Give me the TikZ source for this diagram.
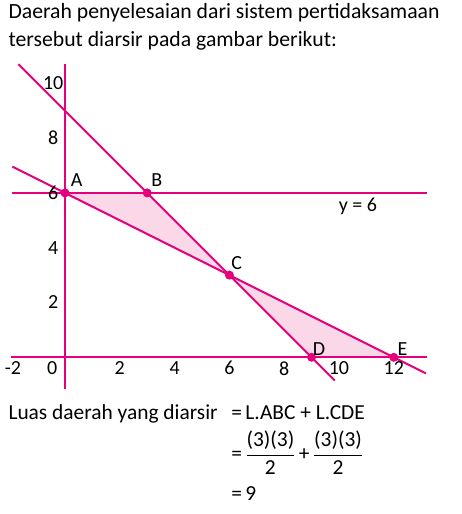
\documentclass[tikz,border=0pt]{standalone}
\usepackage{amsmath}
\usepackage{fontspec}
\setmainfont{Carlito}
\usetikzlibrary{calc,positioning}
\definecolor{rubine}{RGB}{229,0,125}
\definecolor{rubinefill}{RGB}{250,216,232}

\begin{document}
\begin{tikzpicture}[x=27.4pt,y=27.4pt,
    garis/.style={rubine,line width=2pt},
    titik/.style={circle,fill=rubine,inner sep=0pt,minimum size=9pt},
    angka/.style={font=\fontsize{20}{22}\selectfont},
    huruf/.style={font=\fontsize{20}{22}\selectfont},
    teks/.style={font=\fontsize{21.7}{24}\selectfont,anchor=base west},
    hitung/.style={font=\fontsize{21.4}{24}\selectfont}]

    \useasboundingbox (-2.372,-5.719) rectangle (14.453,13.04);

    % Judul
    \node[teks] (judul1) at (-2.19,12.365) {Daerah penyelesaian dari sistem pertidaksamaan};
    \node[teks] (judul2) at (-2.19,11.36) {tersebut diarsir pada gambar berikut:};

    % Titik potong
    \coordinate (A) at (0,6);
    \coordinate (B) at (3,6);
    \coordinate (C) at (6,3);
    \coordinate (D) at (9,0);
    \coordinate (E) at (12,0);

    % Daerah diarsir
    \fill[rubinefill] (A) -- (B) -- (C) -- cycle;
    \fill[rubinefill] (C) -- (D) -- (E) -- cycle;

    % Sumbu
    \coordinate (xkiri) at (-1.97,0);
    \coordinate (xkanan) at (13.21,0);
    \coordinate (ybawah) at (0,-1.16);
    \coordinate (yatas) at (0,10.7);
    \draw[garis] (xkiri) -- (xkanan);
    \draw[garis] (ybawah) -- (yatas);

    % Garis y = 6
    \coordinate (g1kiri) at (-1.94,6);
    \coordinate (g1kanan) at (13.21,6);
    \draw[garis] (g1kiri) -- (g1kanan);

    % Garis x + y = 9
    \coordinate (g2atas) at (-1.7,10.7);
    \coordinate (g2bawah) at (9.85,-0.85);
    \draw[garis] (g2atas) -- (g2bawah);

    % Garis x + 2y = 12
    \coordinate (g3atas) at (-1.92,6.96);
    \coordinate (g3bawah) at (13.17,-0.585);
    \draw[garis] (g3atas) -- (g3bawah);

    % Angka pada sumbu
    \foreach \x in {2,4,...,12}
        \node[angka] (tx\x) at (\x,-0.4) {\x};
    \node[angka] (tx0) at (-0.47,-0.4) {0};
    \node[angka] (txm2) at (-1.9,-0.4) {-2};
    \foreach \y in {2,4,...,10}
        \node[angka] (ty\y) at (-0.43,\y) {\y};

    % Titik dan label
    \foreach \p in {A,B,C,D,E}
        \node[titik] (t\p) at (\p) {};
    \node[huruf] (lA) at (0.43,6.45) {A};
    \node[huruf] (lB) at (3.35,6.45) {B};
    \node[huruf] (lC) at (6.27,3.43) {C};
    \node[huruf] (lD) at (9.27,0.3) {D};
    \node[huruf] (lE) at (12.32,0.3) {E};
    \node[huruf] (ly6) at (10.69,5.5) {y = 6};

    % Perhitungan luas
    \node[hitung,anchor=base west] (luas) at (-2.19,-2.263) {Luas daerah yang diarsir};
    \node[hitung,anchor=base west] (baris1) at (5.94,-2.263) {=\,L.ABC + L.CDE};
    \node[hitung,anchor=west] (baris2) at (5.94,-3.49)
        {$\text{=}\,\dfrac{\text{(3)(3)}}{\text{2}}\,\text{+}\,\dfrac{\text{(3)(3)}}{\text{2}}$};
    \node[hitung,anchor=base west] (baris3) at (5.94,-5.21) {=\,9};
\end{tikzpicture}
\end{document}
